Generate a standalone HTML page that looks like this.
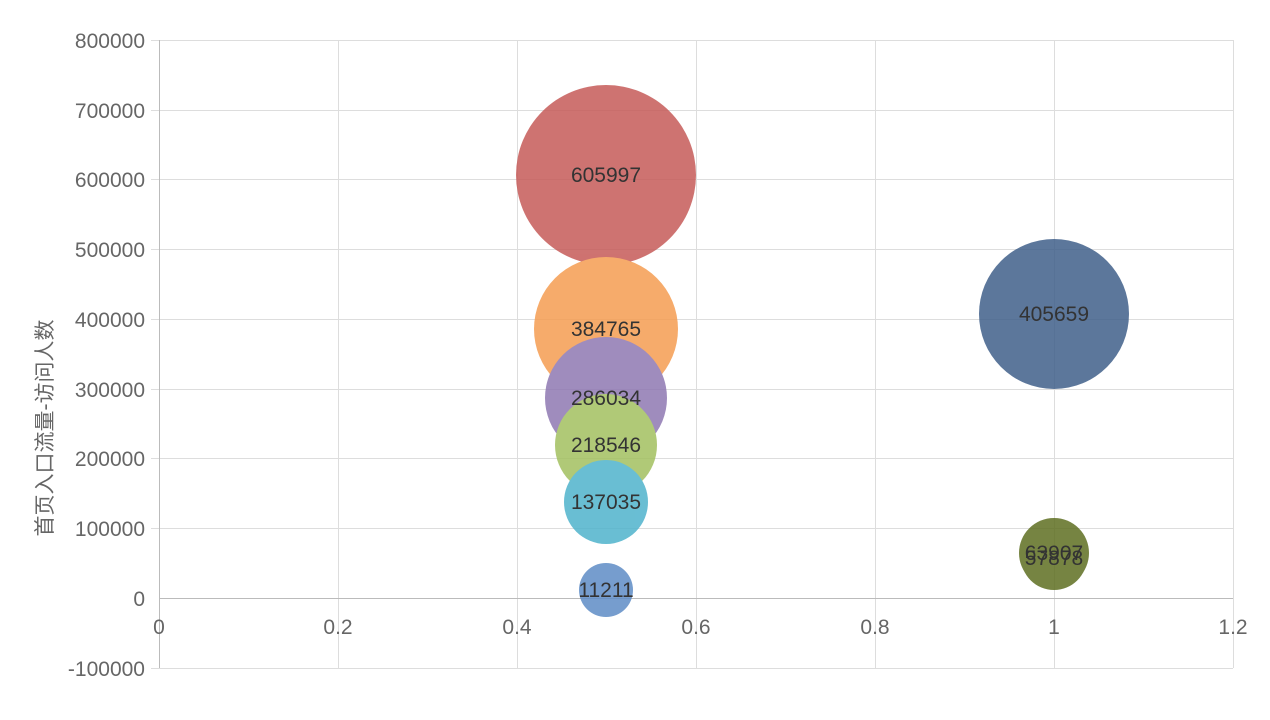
<!DOCTYPE html>
<html><head><meta charset="utf-8"><style>body{margin:0;background:#fff}svg{display:block}text{font-family:"Liberation Sans","Noto Sans CJK SC",sans-serif}</style></head><body>
<svg width="1270" height="720" xmlns="http://www.w3.org/2000/svg">
<g stroke="#ddd" stroke-width="1">
<line x1="159" y1="40.5" x2="1233" y2="40.5"/><line x1="159" y1="110.5" x2="1233" y2="110.5"/><line x1="159" y1="179.5" x2="1233" y2="179.5"/><line x1="159" y1="249.5" x2="1233" y2="249.5"/><line x1="159" y1="319.5" x2="1233" y2="319.5"/><line x1="159" y1="389.5" x2="1233" y2="389.5"/><line x1="159" y1="458.5" x2="1233" y2="458.5"/><line x1="159" y1="528.5" x2="1233" y2="528.5"/><line x1="159" y1="668.5" x2="1233" y2="668.5"/>
<line x1="338.5" y1="40" x2="338.5" y2="668"/><line x1="517.5" y1="40" x2="517.5" y2="668"/><line x1="696.5" y1="40" x2="696.5" y2="668"/><line x1="875.5" y1="40" x2="875.5" y2="668"/><line x1="1054.5" y1="40" x2="1054.5" y2="668"/><line x1="1233.5" y1="40" x2="1233.5" y2="668"/>
<line x1="151" y1="40.5" x2="159" y2="40.5"/><line x1="151" y1="110.5" x2="159" y2="110.5"/><line x1="151" y1="179.5" x2="159" y2="179.5"/><line x1="151" y1="249.5" x2="159" y2="249.5"/><line x1="151" y1="319.5" x2="159" y2="319.5"/><line x1="151" y1="389.5" x2="159" y2="389.5"/><line x1="151" y1="458.5" x2="159" y2="458.5"/><line x1="151" y1="528.5" x2="159" y2="528.5"/><line x1="151" y1="668.5" x2="159" y2="668.5"/>
</g>
<line x1="159.5" y1="40" x2="159.5" y2="668" stroke="#bbb"/>
<line x1="159" y1="598.5" x2="1233" y2="598.5" stroke="#bbb"/>
<g font-size="21" fill="#666" text-anchor="end">
<text x="145" y="48">800000</text><text x="145" y="118">700000</text><text x="145" y="187">600000</text><text x="145" y="257">500000</text><text x="145" y="327">400000</text><text x="145" y="397">300000</text><text x="145" y="466">200000</text><text x="145" y="536">100000</text><text x="145" y="606">0</text><text x="145" y="676">-100000</text>
</g>
<g font-size="21" fill="#666" text-anchor="middle">
<text x="159" y="634">0</text><text x="338" y="634">0.2</text><text x="517" y="634">0.4</text><text x="696" y="634">0.6</text><text x="875" y="634">0.8</text><text x="1054" y="634">1</text><text x="1233" y="634">1.2</text>
</g>
<text transform="translate(52,428) rotate(-90)" font-size="21" fill="#666" text-anchor="middle">首页入口流量-访问人数</text>
<g opacity="0.85">
<circle cx="606" cy="175" r="90" fill="#c65a58"/>
<circle cx="606" cy="329" r="72" fill="#f59d52"/>
<circle cx="606" cy="398" r="61" fill="#8f78b2"/>
<circle cx="606" cy="445" r="51" fill="#a3c060"/>
<circle cx="606" cy="502" r="42" fill="#4fb3cc"/>
<circle cx="606" cy="590" r="27" fill="#5f8dc6"/>
<circle cx="1054" cy="314" r="75" fill="#3f5f8a"/>
<circle cx="1054" cy="553" r="35" fill="#5f6f22"/>
<circle cx="1054" cy="557" r="33" fill="#5f6f22"/>
</g>
<g font-size="21" fill="#333" text-anchor="middle">
<text x="606" y="182">605997</text><text x="606" y="336">384765</text><text x="606" y="405">286034</text><text x="606" y="452">218546</text><text x="606" y="509">137035</text><text x="606" y="597">11211</text><text x="1054" y="321">405659</text><text x="1054" y="560">63907</text><text x="1054" y="565">57878</text>
</g>
</svg>
</body></html>
